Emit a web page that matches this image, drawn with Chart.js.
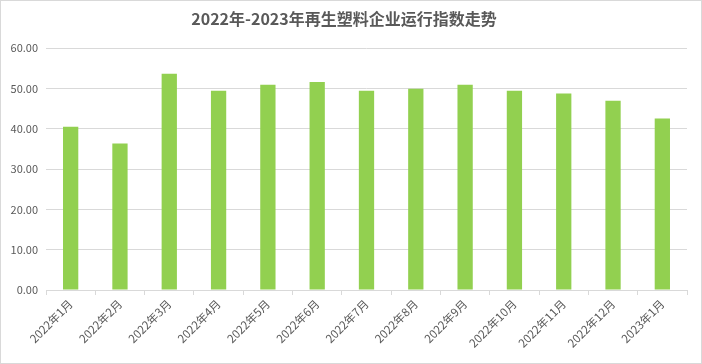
<!DOCTYPE html>
<html>
<head>
<meta charset="utf-8">
<script src="https://cdn.jsdelivr.net/npm/chart.js@4/dist/chart.umd.min.js"></script>
<style>
  html, body { margin: 0; padding: 0; background: #fff; }
  #wrap {
    width: 700px; height: 362px;
    border: 1px solid #d9d9d9;
    position: relative;
  }
</style>
</head>
<body>
<div id="wrap"><canvas id="chart-indice" width="700" height="362"></canvas></div>
<script>
// dados
const titulo = '2022年-2023年再生塑料企业运行指数走势';
const meses = [
  '2022年1月', '2022年2月', '2022年3月', '2022年4月', '2022年5月',
  '2022年6月', '2022年7月', '2022年8月', '2022年9月', '2022年10月',
  '2022年11月', '2022年12月', '2023年1月'
];
const indice = [40.5, 36.3, 53.6, 49.4, 50.9, 51.6, 49.4, 49.9, 50.9, 49.4, 48.7, 46.9, 42.5];
const yTicks = [0, 10, 20, 30, 40, 50, 60];

const FONT = "'Noto Sans CJK SC', 'Liberation Sans', sans-serif";
const CINZA = '#595959';
const GRELHA = '#d9d9d9';

new Chart(document.getElementById('chart-indice'), {
  type: 'bar',
  data: {
    labels: meses,
    datasets: [{
      data: indice,
      backgroundColor: '#92d050',
      borderWidth: 0,
      barPercentage: 0.31,
      categoryPercentage: 1,
    }],
  },
  options: {
    responsive: false,
    animation: false,
    layout: { padding: { left: 0, right: 14, top: 0, bottom: 0 } },
    plugins: {
      legend: { display: false },
      tooltip: { enabled: false },
      title: {
        display: true,
        text: titulo,
        color: CINZA,
        font: { family: FONT, size: 16, weight: 'bold' },
        padding: { top: 8.5, bottom: 19.3 },
      },
    },
    scales: {
      x: {
        grid: {
          display: true,
          drawOnChartArea: false,
          drawTicks: true,
          tickLength: 5,
          color: GRELHA,
          offset: true,
        },
        border: { display: true, color: GRELHA },
        ticks: {
          color: CINZA,
          font: { family: FONT, size: 11.5 },
          minRotation: 45,
          maxRotation: 45,
          autoSkip: false,
          padding: 2,
        },
        afterFit: s => { s.height = 73; },
      },
      y: {
        min: yTicks[0],
        max: yTicks[yTicks.length - 1],
        afterBuildTicks: s => { s.ticks = yTicks.map(v => ({ value: v })); },
        grid: { color: GRELHA, drawTicks: false },
        border: { display: false },
        ticks: {
          color: CINZA,
          font: { family: FONT, size: 11 },
          padding: 8,
          callback: v => Number(v).toFixed(2),
        },
        afterFit: s => { s.width = 45; },
      },
    },
  },
});
</script>
</body>
</html>
